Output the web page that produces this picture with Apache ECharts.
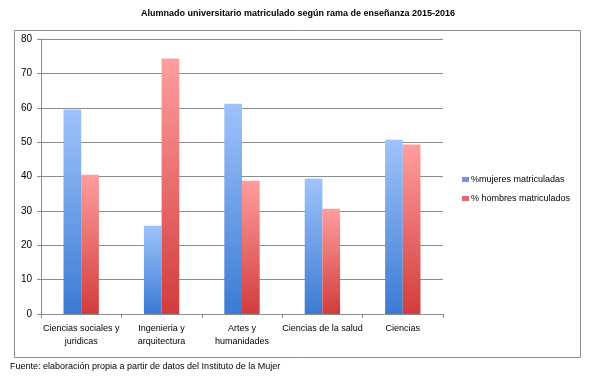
<!DOCTYPE html>
<html>
<head>
<meta charset="utf-8">
<script src="https://cdn.jsdelivr.net/npm/echarts@6/dist/echarts.min.js"></script>
<style>
  html, body { margin: 0; padding: 0; background: #fff; }
  #myChart { width: 596px; height: 377px; }
</style>
</head>
<body>
<div id="myChart"></div>
<script>
  // datos
  const ramas = ['Ciencias sociales y\njuridicas', 'Ingenieria y\narquitectura', 'Artes y\nhumanidades', 'Ciencias de la salud', 'Ciencias']
  const mujeres = [59.5, 25.7, 61.2, 39.4, 50.7]
  const hombres = [40.5, 74.3, 38.8, 30.6, 49.3]
  const yTicks = [0, 10, 20, 30, 40, 50, 60, 70, 80]

  const font = '"Liberation Sans Narrow", "Arial Narrow", "Liberation Sans", Arial, sans-serif'
  let myChart = echarts.init(document.getElementById('myChart'))

  const grad = (top, bottom) => new echarts.graphic.LinearGradient(0, 0, 0, 1, [
    { offset: 0, color: top },
    { offset: 1, color: bottom }
  ])

  myChart.setOption({
    animation: false,
    title: {
      text: 'Alumnado universitario matriculado según rama de enseñanza 2015-2016',
      left: 'center',
      top: 4,
      textStyle: { fontFamily: font, fontSize: 9, fontWeight: 'bold', color: '#000' }
    },
    graphic: [
      {
        type: 'rect',
        shape: { x: 14.5, y: 30.5, width: 566, height: 327 },
        style: { fill: 'none', stroke: '#8c8c8c', lineWidth: 1 },
        silent: true
      },
      {
        type: 'text',
        left: 10,
        top: 362,
        style: {
          text: 'Fuente: elaboración propia a partir de datos del Instituto de la Mujer',
          font: '9px ' + font,
          fill: '#000'
        }
      }
    ],
    legend: {
      orient: 'vertical',
      left: 457,
      top: 170,
      itemWidth: 7,
      itemHeight: 5,
      itemGap: 10,
      icon: 'rect',
      textStyle: { fontFamily: font, fontSize: 9, color: '#000', padding: [0, 0, 0, -3] },
      data: [
        { name: '%mujeres matriculadas', itemStyle: { color: '#6a9be0' } },
        { name: '% hombres matriculados', itemStyle: { color: '#e26a6a' } }
      ]
    },
    grid: { left: 41, right: 153, top: 39, bottom: 63 },
    xAxis: {
      type: 'category',
      data: ramas,
      axisLine: { lineStyle: { color: '#8c8c8c' } },
      axisTick: { show: true, length: 4, lineStyle: { color: '#8c8c8c' } },
      axisLabel: { fontFamily: font, fontSize: 9, color: '#000', interval: 0, lineHeight: 13, margin: 8 }
    },
    yAxis: {
      type: 'value',
      min: yTicks[0],
      max: yTicks[yTicks.length - 1],
      interval: 10,
      axisLine: { show: true, lineStyle: { color: '#8c8c8c' } },
      axisTick: { show: true, length: 4, lineStyle: { color: '#8c8c8c' } },
      splitLine: { lineStyle: { color: '#8c8c8c', width: 1 } },
      axisLabel: { fontFamily: font, fontSize: 10, color: '#000', margin: 9 }
    },
    series: [
      {
        name: '%mujeres matriculadas',
        type: 'bar',
        data: mujeres,
        barGap: '0%',
        barCategoryGap: '56%',
        itemStyle: { color: grad('#9fc3fb', '#3b7bd2') }
      },
      {
        name: '% hombres matriculados',
        type: 'bar',
        data: hombres,
        barGap: '0%',
        barCategoryGap: '56%',
        itemStyle: { color: grad('#ff9e9e', '#d23c3c') }
      }
    ]
  })
</script>
</body>
</html>
